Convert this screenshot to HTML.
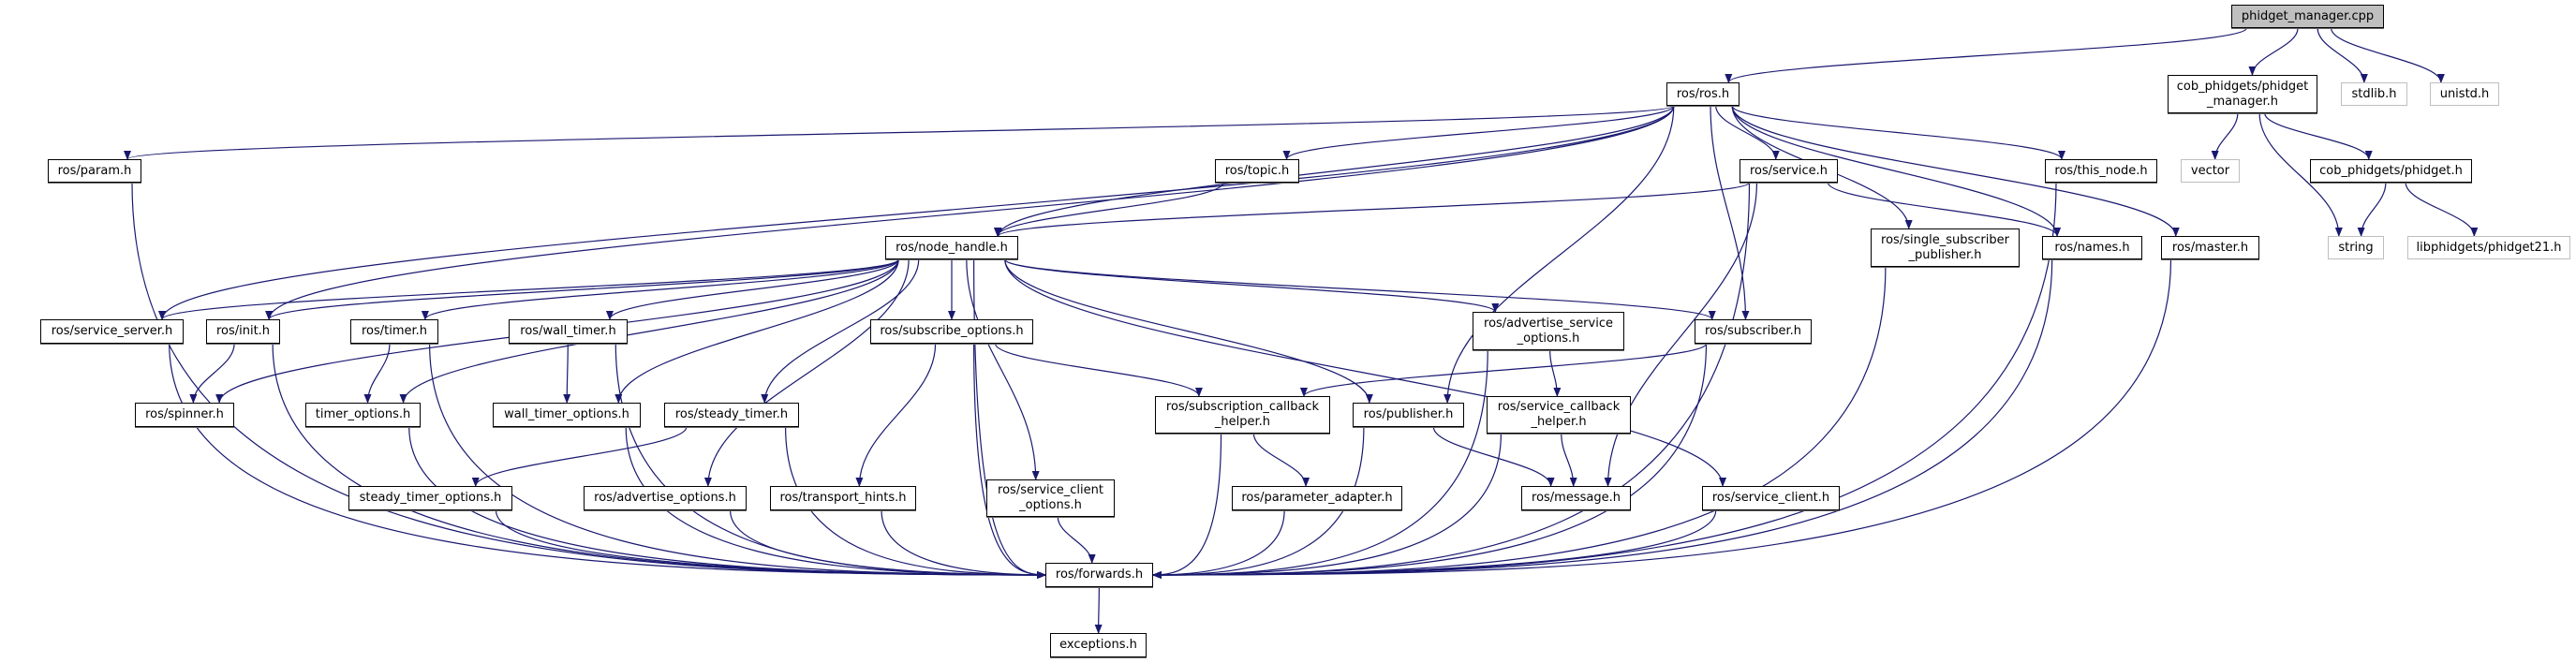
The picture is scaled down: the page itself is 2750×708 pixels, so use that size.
<!DOCTYPE html>
<html><head><meta charset="utf-8"><style>
body{margin:0;width:2750px;height:708px;background:#fff;position:relative;overflow:hidden;font-family:"DejaVu Sans","Liberation Sans",sans-serif;}
.n{position:absolute;box-sizing:border-box;border:1px solid #000;background:#fff;font-size:13px;line-height:16px;text-align:center;display:flex;align-items:center;justify-content:center;color:#000;white-space:nowrap;box-shadow:0 1px 0 #666;}
.g{border-color:#bfbfbf;box-shadow:none;}
svg{position:absolute;left:0;top:0;}
</style></head><body>
<svg id="s" width="2750" height="708"><defs><marker id="a" markerWidth="10" markerHeight="8" refX="9" refY="4" orient="auto" markerUnits="userSpaceOnUse"><path d="M0,0 L10,4 L0,8 z" fill="#191970"/></marker></defs></svg>
<div class="n" style="left:2382px;top:5px;width:163px;height:25px;background:#bfbfbf">phidget_manager.cpp</div>
<div class="n" style="left:1779px;top:88px;width:78px;height:25px">ros/ros.h</div>
<div class="n" style="left:2314px;top:80px;width:160px;height:41px">cob_phidgets/phidget<br>_manager.h</div>
<div class="n g" style="left:2499px;top:88px;width:71px;height:25px">stdlib.h</div>
<div class="n g" style="left:2594px;top:88px;width:74px;height:25px">unistd.h</div>
<div class="n" style="left:51px;top:170px;width:100px;height:25px">ros/param.h</div>
<div class="n" style="left:1297px;top:170px;width:90px;height:25px">ros/topic.h</div>
<div class="n" style="left:1857px;top:170px;width:105px;height:25px">ros/service.h</div>
<div class="n" style="left:2183px;top:170px;width:120px;height:25px">ros/this_node.h</div>
<div class="n g" style="left:2328px;top:170px;width:63px;height:25px">vector</div>
<div class="n" style="left:2466px;top:170px;width:173px;height:25px">cob_phidgets/phidget.h</div>
<div class="n" style="left:945px;top:252px;width:142px;height:25px">ros/node_handle.h</div>
<div class="n" style="left:1997px;top:244px;width:159px;height:41px">ros/single_subscriber<br>_publisher.h</div>
<div class="n" style="left:2180px;top:252px;width:107px;height:25px">ros/names.h</div>
<div class="n" style="left:2307px;top:252px;width:105px;height:25px">ros/master.h</div>
<div class="n g" style="left:2485px;top:252px;width:60px;height:25px">string</div>
<div class="n g" style="left:2570px;top:252px;width:174px;height:25px">libphidgets/phidget21.h</div>
<div class="n" style="left:43px;top:341px;width:153px;height:26px">ros/service_server.h</div>
<div class="n" style="left:220px;top:341px;width:79px;height:26px">ros/init.h</div>
<div class="n" style="left:374px;top:341px;width:94px;height:26px">ros/timer.h</div>
<div class="n" style="left:543px;top:341px;width:127px;height:26px">ros/wall_timer.h</div>
<div class="n" style="left:929px;top:341px;width:174px;height:26px">ros/subscribe_options.h</div>
<div class="n" style="left:1572px;top:333px;width:162px;height:41px">ros/advertise_service<br>_options.h</div>
<div class="n" style="left:1809px;top:341px;width:125px;height:26px">ros/subscriber.h</div>
<div class="n" style="left:144px;top:430px;width:106px;height:26px">ros/spinner.h</div>
<div class="n" style="left:326px;top:430px;width:123px;height:26px">timer_options.h</div>
<div class="n" style="left:526px;top:430px;width:158px;height:26px">wall_timer_options.h</div>
<div class="n" style="left:709px;top:430px;width:144px;height:26px">ros/steady_timer.h</div>
<div class="n" style="left:1233px;top:423px;width:187px;height:40px">ros/subscription_callback<br>_helper.h</div>
<div class="n" style="left:1444px;top:430px;width:119px;height:26px">ros/publisher.h</div>
<div class="n" style="left:1587px;top:423px;width:154px;height:40px">ros/service_callback<br>_helper.h</div>
<div class="n" style="left:372px;top:519px;width:175px;height:26px">steady_timer_options.h</div>
<div class="n" style="left:623px;top:519px;width:174px;height:26px">ros/advertise_options.h</div>
<div class="n" style="left:822px;top:519px;width:156px;height:26px">ros/transport_hints.h</div>
<div class="n" style="left:1053px;top:512px;width:137px;height:40px">ros/service_client<br>_options.h</div>
<div class="n" style="left:1315px;top:519px;width:182px;height:26px">ros/parameter_adapter.h</div>
<div class="n" style="left:1624px;top:519px;width:117px;height:26px">ros/message.h</div>
<div class="n" style="left:1817px;top:519px;width:147px;height:26px">ros/service_client.h</div>
<div class="n" style="left:1116px;top:601px;width:115px;height:26px">ros/forwards.h</div>
<div class="n" style="left:1121px;top:676px;width:103px;height:26px">exceptions.h</div>
<script>
var N={cpp:[2382,2545,5,30],ros:[1779,1857,88,113],pmh:[2314,2474,80,121],stdlib:[2499,2570,88,113],unistd:[2594,2668,88,113],
param:[51,151,170,195],topic:[1297,1387,170,195],service:[1857,1962,170,195],thisnode:[2183,2303,170,195],vector:[2328,2391,170,195],phidget:[2466,2639,170,195],
nh:[945,1087,252,277],ssp:[1997,2156,244,285],names:[2180,2287,252,277],master:[2307,2412,252,277],string:[2485,2545,252,277],lib:[2570,2744,252,277],
ss:[43,196,341,367],init:[220,299,341,367],timer:[374,468,341,367],wt:[543,670,341,367],so:[929,1103,341,367],aso:[1572,1734,333,374],sub:[1809,1934,341,367],
spinner:[144,250,430,456],to:[326,449,430,456],wto:[526,684,430,456],st:[709,853,430,456],sch:[1233,1420,423,463],pub:[1444,1563,430,456],sch2:[1587,1741,423,463],
sto:[372,547,519,545],ao:[623,797,519,545],th:[822,978,519,545],sco:[1053,1190,512,552],pa:[1315,1497,519,545],msg:[1624,1741,519,545],sc:[1817,1964,519,545],
fw:[1116,1231,601,627],exc:[1121,1224,676,702]};
var E=[["cpp","ros"],["cpp","pmh"],["cpp","stdlib"],["cpp","unistd"],["pmh","vector"],["pmh","string"],["pmh","phidget"],["phidget","string"],["phidget","lib"],
["ros","param"],["ros","topic"],["ros","nh"],["ros","service"],["ros","thisnode"],["ros","ssp"],["ros","names"],["ros","master"],["ros","ss"],["ros","init"],["ros","pub"],["ros","sub"],
["service","nh"],["service","names"],["service","msg"],["service","fw"],["topic","nh"],["thisnode","fw"],["names","fw"],["master","fw"],["ssp","fw"],
["nh","ss"],["nh","init"],["nh","spinner"],["nh","timer"],["nh","to"],["nh","wt"],["nh","wto"],["nh","st"],["nh","so"],["nh","ao"],["nh","sco"],["nh","fw"],["nh","pub"],["nh","aso"],["nh","sub"],["nh","sc"],
["ss","fw"],["init","spinner"],["init","fw"],["param","fw"],["timer","to"],["timer","fw"],["wt","wto"],["wt","fw"],["st","sto"],["st","fw"],["to","fw"],["wto","fw"],["sto","fw"],["ao","fw"],["th","fw"],["sco","fw"],
["so","th"],["so","fw"],["so","sch"],["sch","pa"],["sch","fw"],["pa","fw"],["pub","msg"],["pub","fw"],["aso","sch2"],["aso","fw"],["sch2","msg"],["sch2","fw"],["sub","sch"],["sub","fw"],["sc","fw"],["fw","exc"]];
var s=document.getElementById("s"),h="";
E.forEach(function(e){var a=N[e[0]],b=N[e[1]];var acx=(a[0]+a[1])/2,bcx=(b[0]+b[1])/2;
var sx=acx+Math.max(-(a[1]-a[0])*0.4,Math.min((a[1]-a[0])*0.4,(bcx-acx)*0.15)),sy=a[3];
var tx=bcx+Math.max(-(b[1]-b[0])*0.35,Math.min((b[1]-b[0])*0.35,(acx-bcx)*0.15)),ty=b[2];
var d;
if(e[1]=="fw"&&acx<1060){tx=b[0];ty=614;var k=Math.abs(tx-sx)*0.5;d="M"+sx+","+sy+" C"+sx+","+(ty-15)+" "+(tx-k)+","+ty+" "+tx+","+ty;}
else if(e[1]=="fw"&&acx>1300){tx=b[1];ty=614;var k2=Math.abs(tx-sx)*0.5;d="M"+sx+","+sy+" C"+sx+","+(ty-15)+" "+(tx+k2)+","+ty+" "+tx+","+ty;}
else{var dy=ty-sy;d="M"+sx+","+sy+" C"+sx+","+(sy+dy*0.4)+" "+tx+","+(ty-dy*0.4)+" "+tx+","+ty;}
h+='<path d="'+d+'" fill="none" stroke="#191970" stroke-width="1.2" marker-end="url(#a)"/>';});
s.insertAdjacentHTML("beforeend",h);
</script>
</body></html>
